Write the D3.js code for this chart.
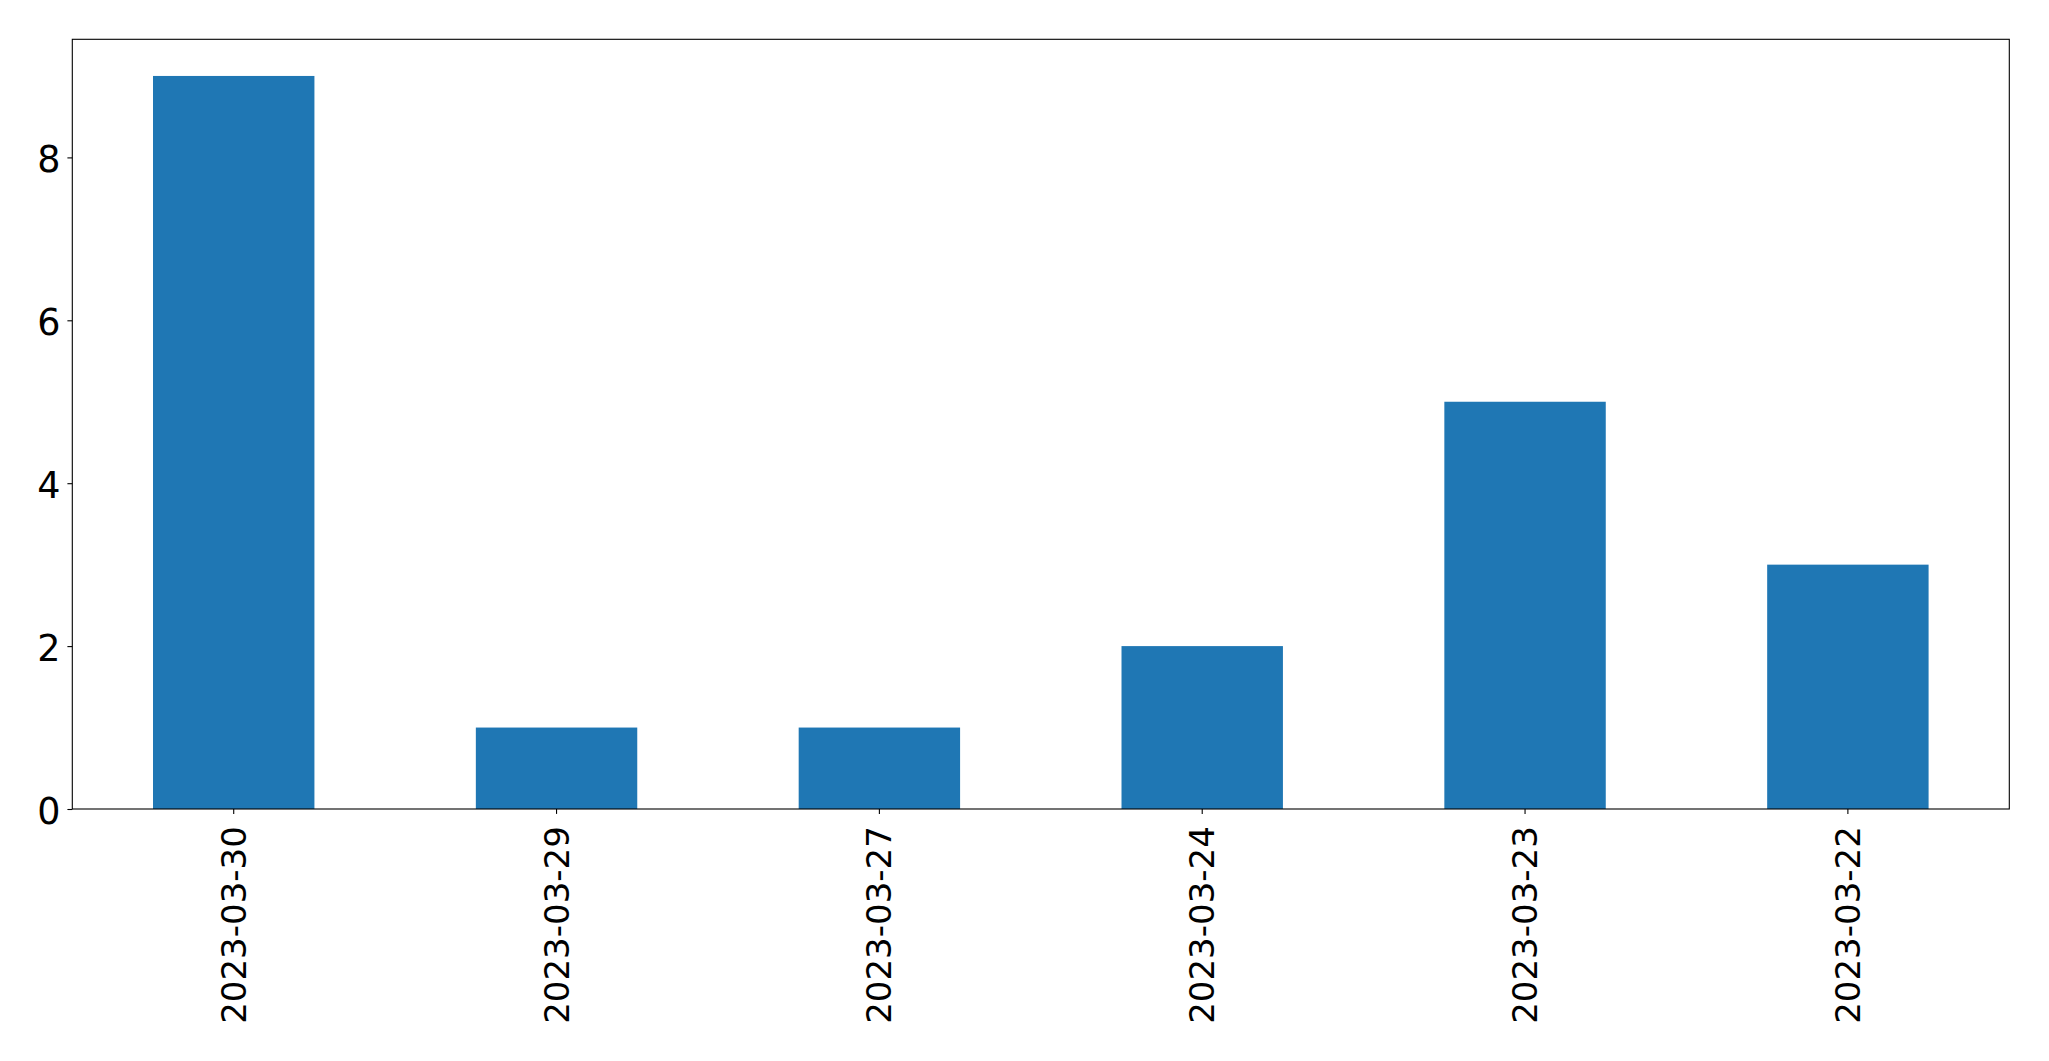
<!DOCTYPE html>
<html>
<head>
<meta charset="utf-8">
<script src="https://cdn.jsdelivr.net/npm/d3@7"></script>
<style>
  html, body { margin: 0; padding: 0; background: #fff; }
  svg { display: block; }
</style>
</head>
<body>
<svg id="chart" width="2049" height="1061"></svg>
<script>
const categories = ["2023-03-30", "2023-03-29", "2023-03-27", "2023-03-24", "2023-03-23", "2023-03-22"];
const values = [9, 1, 1, 2, 5, 3];
const yTicks = [0, 2, 4, 6, 8];

const W = 2049, H = 1061;
const margin = {left: 72.3, right: W - 2009.3, top: 39.3, bottom: H - 809};
const svg = d3.select("#chart");
const font = "'DejaVu Sans', sans-serif";
const fsX = 34;
const fsY = 36.5;

const x = d3.scaleBand()
  .domain(categories)
  .range([margin.left, W - margin.right])
  .paddingInner(0.5)
  .paddingOuter(0.25);

const ymax = d3.max(values) * 1.05;
const y = d3.scaleLinear().domain([0, ymax]).range([H - margin.bottom, margin.top]);

// bars
svg.append("g").selectAll("rect")
  .data(values)
  .enter().append("rect")
  .attr("x", (d, i) => x(categories[i]))
  .attr("y", d => y(d))
  .attr("width", x.bandwidth())
  .attr("height", d => y(0) - y(d))
  .attr("fill", "#1f77b4");

// y axis
const yAxis = d3.axisLeft(y).tickValues(yTicks).tickSize(4.9).tickPadding(7).tickFormat(d3.format("d"));
const gy = svg.append("g").attr("transform", `translate(${margin.left},0)`).call(yAxis);
gy.select(".domain").remove();
gy.selectAll(".tick line").attr("stroke", "#000").attr("stroke-width", 1.1);
gy.selectAll(".tick text")
  .attr("font-family", font).attr("font-size", fsY).attr("fill", "#000")
  .attr("dy", null).attr("dominant-baseline", "central").attr("y", 2);

// x axis
const xAxis = d3.axisBottom(x).tickSize(4.9).tickPadding(0);
const gx = svg.append("g").attr("transform", `translate(0,${H - margin.bottom})`).call(xAxis);
gx.select(".domain").remove();
gx.selectAll(".tick line").attr("stroke", "#000").attr("stroke-width", 1.1);
gx.selectAll(".tick text")
  .attr("font-family", font).attr("font-size", fsX).attr("fill", "#000")
  .attr("text-anchor", "end")
  .attr("dy", null)
  .attr("dominant-baseline", "central")
  .attr("transform", "translate(0,17.2) rotate(-90)")
  .attr("x", 0).attr("y", 0);

// frame
svg.append("rect")
  .attr("x", margin.left).attr("y", margin.top)
  .attr("width", W - margin.left - margin.right)
  .attr("height", H - margin.top - margin.bottom)
  .attr("fill", "none").attr("stroke", "#000").attr("stroke-width", 1.1);
</script>
</body>
</html>
